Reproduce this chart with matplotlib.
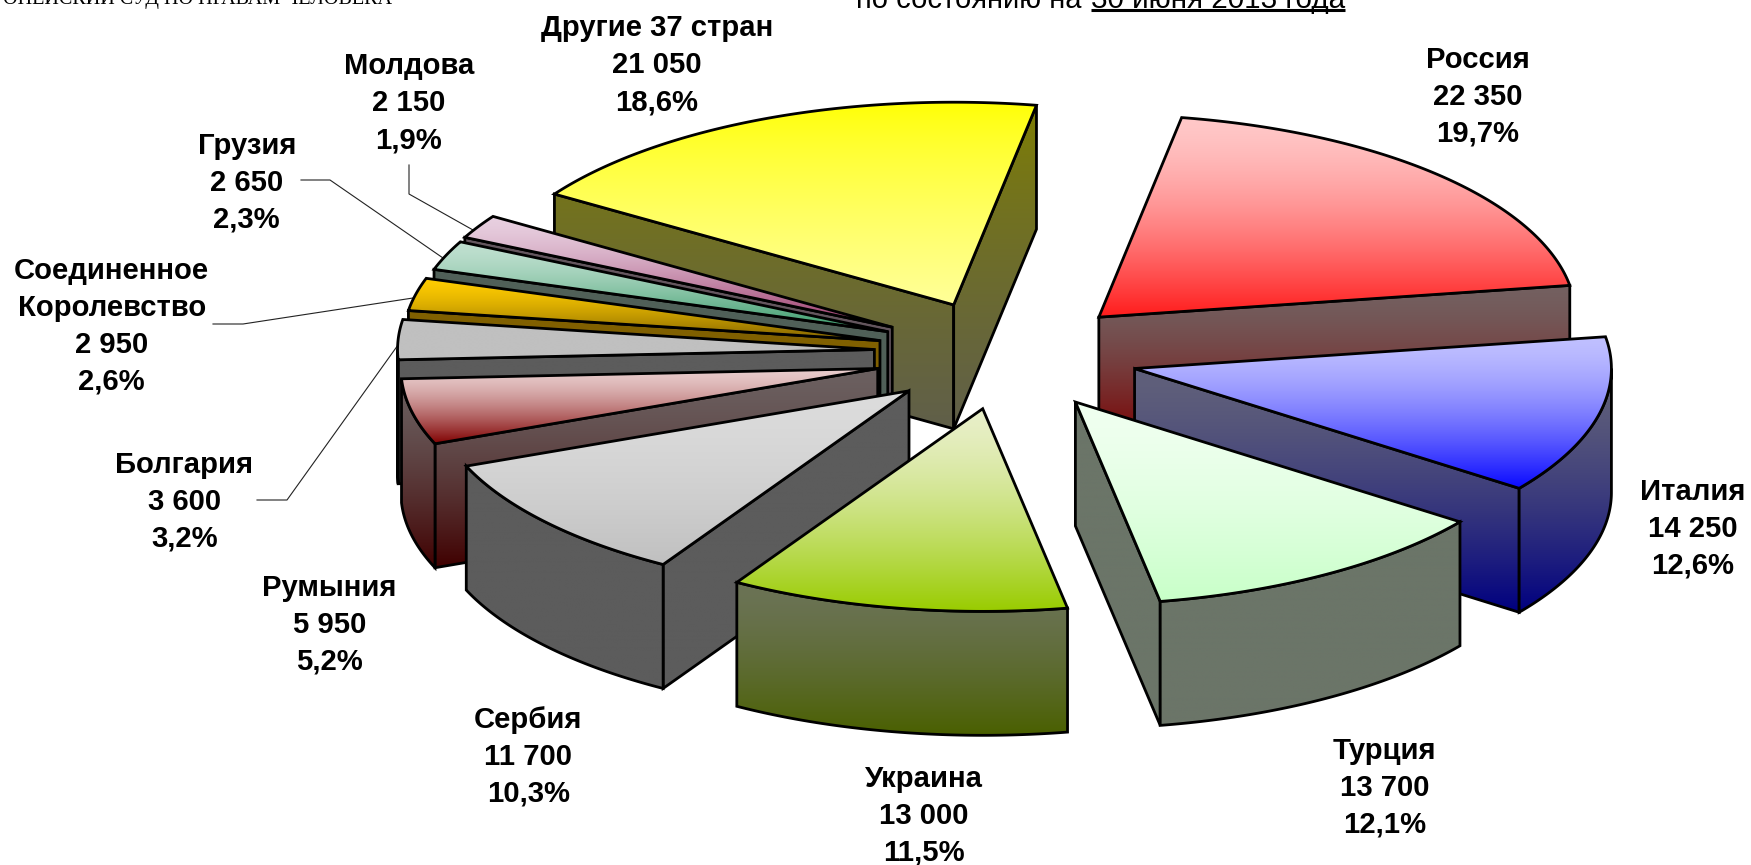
import numpy as np
import matplotlib
matplotlib.use("Agg")
import matplotlib.pyplot as plt
from matplotlib.patches import Polygon
from matplotlib.colors import to_rgb

# ---- data ----
countries = ["Россия", "Италия", "Турция", "Украина", "Сербия", "Румыния", "Болгария",
             "Соединенное\nКоролевство", "Грузия", "Молдова", "Другие 37 стран"]
values = [22350, 14250, 13700, 13000, 11700, 5950, 3600, 2950, 2650, 2150, 21050]
percents = ["19,7%", "12,6%", "12,1%", "11,5%", "10,3%", "5,2%", "3,2%", "2,6%", "2,3%", "1,9%", "18,6%"]
value_labels = ["22 350", "14 250", "13 700", "13 000", "11 700", "5 950", "3 600", "2 950", "2 650", "2 150", "21 050"]

# ---- style / layout ----
W, H = 1751, 865
S = 1751 / 1568
START = 10.0            # first slice start, degrees clockwise from north
R = 427 * S             # pie radius
K = 0.425               # vertical squash
DEPTH = 111 * S         # extrusion
CX, CY = 800 * S, 315 * S
# gradient easing of each slice
gammas = [1.5, 1.5, 1.5, 1.5, 1.5, 1.5, 1.5, 1.5, 1.5, 1.5, 0.75]
# explode offset of each slice from the pie centre
explode_x = [184, 216, 163, 80, 14, -14, -17, -12, -5, -1, 54]
explode_y = [-31, 15, 45, 51, 35, 15, -2, -10, -18, -22, -42]
top_colors = [("#ffc8c8", "#ff1c1c"), ("#c0c0ff", "#0a0aff"), ("#f0fff0", "#c8ffc8"),
              ("#e8efc8", "#99cc00"), ("#dcdcdc", "#c0c0c0"), ("#e8cccc", "#800000"),
              ("#c0c0c0", "#c0c0c0"), ("#ffcc00", "#7f6000"), ("#c0e0d0", "#339966"),
              ("#e8d0e0", "#993366"), ("#ffff00", "#ffff99")]
side_colors = [("#736060", "#7b0000"), ("#60607a", "#000080"), ("#6b7568", "#6b7568"),
               ("#6b7355", "#4a6000"), ("#5c5c5c", "#5c5c5c"), ("#6b6060", "#400000"),
               ("#5c5c5c", "#5c5c5c"), ("#806000", "#806000"), ("#506058", "#506058"),
               ("#64565e", "#64565e"), ("#808000", "#605f4a")]
paint_order = [10, 9, 8, 7, 6, 5, 4, 3, 0, 1, 2]
label_pos = [(1323, 86.5), (1516, 473.5), (1240, 705.5), (827, 730.5), (473, 677.5), (295, 559.5),
             (165, 449.5), (100, 292), (221, 163.5), (366, 92.5), (588, 58.5)]
leaders = {9: [(409, 165), (409, 194), (473, 230)],
           8: [(301, 180), (330, 180), (443, 258)],
           7: [(213, 324), (243, 324), (413, 298)],
           6: [(257, 500), (287, 500), (398, 345)]}
EDGE = dict(edgecolor="black", linewidth=2.0, joinstyle="miter", fill=False)

fig = plt.figure(figsize=(W / 100, H / 100), dpi=100, facecolor="white")
ax = fig.add_axes([0, 0, 1, 1])
ax.set_axis_off()


def gradient(poly, c0, c1, y0, y1, z, g):
    t = np.linspace(0, 1, 256)[:, None] ** g
    img = (1 - t) * np.array(to_rgb(c0)) + t * np.array(to_rgb(c1))
    xs = poly[:, 0]
    im = ax.imshow(img[:, None, :], extent=(xs.min(), xs.max(), y1, y0), aspect="auto",
                   interpolation="bilinear", zorder=z, origin="upper")
    im.set_clip_path(Polygon(poly, closed=True, transform=ax.transData))


def face(poly, colors, y0, y1, z, g):
    gradient(poly, colors[0], colors[1], y0, y1, z, g)
    ax.add_patch(Polygon(poly, closed=True, zorder=z + 0.1, **EDGE))


total = sum(values)
edges = START + np.concatenate([[0], np.cumsum(values)]) / total * 360.0

for rank, i in enumerate(paint_order):
    a0, a1 = edges[i], edges[i + 1]
    apex = np.array([CX + explode_x[i] * S, CY + explode_y[i] * S])
    ang = np.radians(np.linspace(a0, a1, 121))
    arc = np.column_stack([apex[0] + R * np.sin(ang), apex[1] - R * K * np.cos(ang)])
    top = np.vstack([apex, arc])
    drop = np.array([0, DEPTH])
    z = 10 + rank * 5

    # faces looking towards the viewer are those walked leftwards clockwise
    walls = []
    if arc[0, 0] < apex[0]:
        walls.append(np.array([apex, arc[0], arc[0] + drop, apex + drop]))
    if arc[-1, 0] > apex[0]:
        walls.append(np.array([arc[-1], apex, apex + drop, arc[-1] + drop]))
    front = np.where(np.gradient(arc[:, 0]) < 0)[0]
    if len(front) > 1:
        seg = arc[front]
        walls.append(np.vstack([seg, (seg + drop)[::-1]]))
    if walls:
        all_y = np.concatenate([w[:, 1] for w in walls])
        for k, w in enumerate(walls):
            face(w, side_colors[i], all_y.min(), all_y.max(), z + k * 0.5, gammas[i])
    face(top, top_colors[i], top[:, 1].min(), top[:, 1].max(), z + 3, gammas[i])

# labels
for i, (px, py) in enumerate(label_pos):
    ax.text(px * S, py * S, f"{countries[i]}\n{value_labels[i]}\n{percents[i]}",
            ha="center", va="center", ma="center", family="Liberation Sans",
            fontweight="bold", fontsize=21.1, linespacing=1.41, color="black", zorder=200)

for pts in leaders.values():
    p = np.array(pts)
    ax.plot(p[:, 0], p[:, 1], color="#222222", lw=0.8, zorder=5)

# header texts, cut by the top edge as in the source
ax.text(392, 4, "ЕВРОПЕЙСКИЙ СУД ПО ПРАВАМ ЧЕЛОВЕКА", ha="right", va="baseline",
        family="Liberation Serif", fontsize=14.5, color="black", zorder=200)
ax.text(1081, 7.5, "по состоянию на", ha="right", va="baseline",
        family="Liberation Sans", fontsize=21, color="black", zorder=200)
ax.text(1091, 7.5, "30 июня 2013 года", ha="left", va="baseline",
        family="Liberation Sans", fontsize=21.3, color="black", zorder=200)
ax.plot([1091, 1345], [10, 10], color="black", lw=2.2, solid_capstyle="butt", zorder=200)

ax.set_xlim(0, W)
ax.set_ylim(H, 0)
fig.savefig("out.png", dpi=100, facecolor="white")
